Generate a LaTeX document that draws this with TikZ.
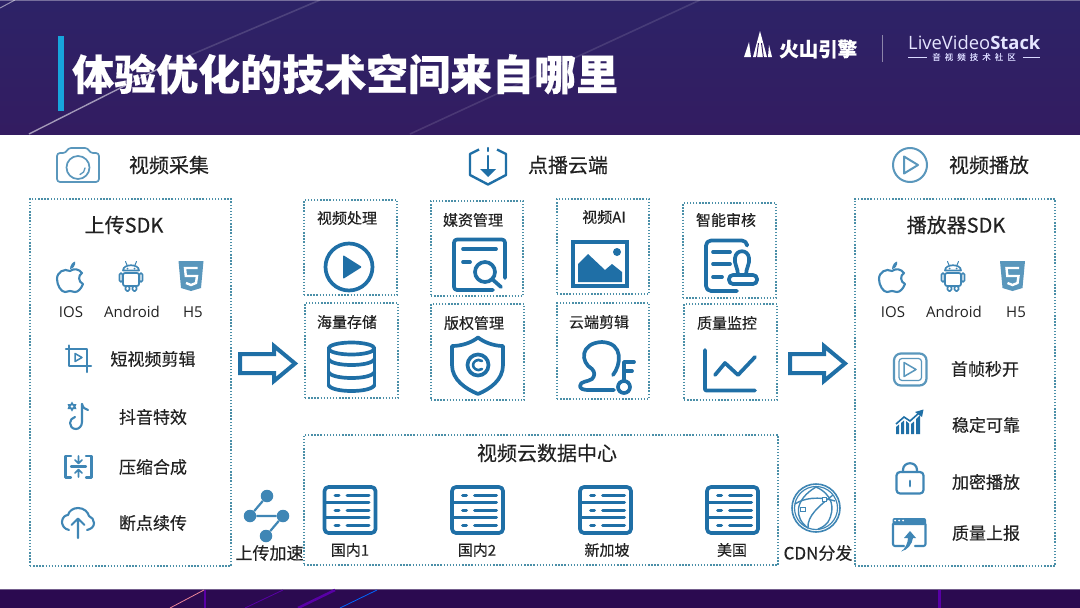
\documentclass[tikz,border=0pt]{standalone}
\usepackage{fontspec}
\setmainfont{Noto Sans CJK SC}[RawFeature={embolden=0.35}]
\newfontfamily\latinf{Open Sans}
\definecolor{ink}{HTML}{222222}
\definecolor{iconblue}{HTML}{1F6FA6}
\definecolor{midblue}{HTML}{3F86B5}
\definecolor{softblue}{HTML}{5A97BC}
\definecolor{dotcol}{HTML}{4A8FA8}
\definecolor{headtop}{HTML}{2D2367}
\definecolor{headbot}{HTML}{331C61}
\definecolor{foot}{HTML}{2B0A50}
\newcommand{\fs}[1]{\fontsize{#1}{#1}\selectfont}
\tikzset{
  dotbox/.style={draw=dotcol,line width=1.4pt,dash pattern=on 1.4pt off 1.7pt,inner sep=0pt,outer sep=0pt},
  txt/.style={inner sep=0pt,text=ink,font=\fs{15}},
  headtxt/.style={txt,font=\fs{20}},
  sidetxt/.style={txt,font=\fs{17}},
  ico/.style={draw=iconblue,line width=3.7pt,line cap=round,line join=round},
  icob/.style={draw=midblue,line width=2.1pt,line cap=round,line join=round},
  icosoft/.style={draw=softblue,line width=2pt,line cap=round,line join=round},
  bigarrow/.style={draw=iconblue,line width=4pt,line join=miter,fill=white},
  pics/apple/.style={code={
    \draw[icob] (0,-6) .. controls (4,-9) and (9,-8) .. (12,-4) .. controls (8,-2) and (8,5) .. (13,7) .. controls (11,12) and (8,15) .. (5,15) .. controls (3,15) and (2,14) .. (0,14) .. controls (-2,14) and (-3,15) .. (-5,15) .. controls (-9,15) and (-13,8) .. (-13,2) .. controls (-13,-5) and (-6,-9) .. (0,-6) -- cycle;
    \fill[midblue] (0,-8) .. controls (0,-12) and (3,-15) .. (5,-15.5) .. controls (6,-12) and (3,-8) .. (0,-8) -- cycle;
  }},
  pics/android/.style={code={
    \draw[icob,line width=1.7pt,rounded corners=2pt] (-8,-3) rectangle (8,10);
    \draw[icob,line width=1.7pt] (-8,-5.5) .. controls (-8,-12.5) and (8,-12.5) .. (8,-5.5) -- cycle;
    \draw[icob,line width=1.7pt,rounded corners=1.5pt] (-11.5,-3) rectangle (-8.5,6);
    \draw[icob,line width=1.7pt,rounded corners=1.5pt] (8.5,-3) rectangle (11.5,6);
    \draw[icob,line width=1.7pt,rounded corners=1.5pt] (-5.5,10) rectangle (-1.5,15);
    \draw[icob,line width=1.7pt,rounded corners=1.5pt] (1.5,10) rectangle (5.5,15);
    \draw[icob,line width=1pt] (-4,-11) -- (-5.5,-14.5) (4,-11) -- (5.5,-14.5);
    \fill[midblue] (-3.5,-7.5) circle[radius=1] (3.5,-7.5) circle[radius=1];
  }},
  pics/hfive/.style={code={
    \fill[softblue] (-12.5,-15) -- (12.5,-15) -- (10,12) -- (0,15) -- (-10,12) -- cycle;
    \draw[white,line width=2.4pt,line join=miter] (6.5,-8) -- (-6,-8) -- (-5.2,0) -- (6,0) -- (5,7) -- (0,9) -- (-5,7);
  }},
  pics/server/.style={code={
    \draw[ico,rounded corners=4pt] (-25.5,-23) rectangle (25.5,23);
    \draw[ico,line width=3pt] (-25,-7.5) -- (19,-7.5) (-25,7.5) -- (19,7.5);
    \foreach \r in {-15,0,15} \draw[ico,line width=3pt] (-15,\r) -- (-11,\r) (-3,\r) -- (19,\r);
  }}
}
\begin{document}
\begin{tikzpicture}[x=1pt,y=-1pt]
\useasboundingbox (0,0) rectangle (1080,608);
\fill[white] (0,0) rectangle (1080,608);
% banner
\shade[top color=headtop,bottom color=headbot] (0,0) rectangle (1080,134);
\fill[white,opacity=.35] (0,0) rectangle (1080,1);
\draw[white,opacity=.55,line width=1.4pt] (29,134) -- (160,68);
\draw[white,opacity=.15,line width=1.6pt] (160,68) -- (320,0);
\draw[white,opacity=.5,line width=1pt] (0,8) -- (15,0);
\draw[white,opacity=.12,line width=1.6pt] (410,134) -- (700,0);
\fill[foot] (0,589) rectangle (1080,608);
\draw[white,opacity=.35] (0,589) -- (1080,589);
\draw[violet!70!blue,line width=2.5pt] (205,590) -- (205,608);
\draw[pink!70!purple,line width=.8pt] (204,590) -- (170,608);
\draw[violet!70!blue,line width=.8pt] (283,590) -- (245,608);
\draw[violet!70!blue,line width=2.5pt] (335,590) -- (298,608);
\draw[blue!60!cyan,line width=.8pt] (377,590) -- (340,608);
\draw[violet!70!blue,line width=3pt] (939,590) -- (939,608);
% title
\fill[cyan!80!teal] (58,36) rectangle (64,111);
\node[font=\fs{42}\bfseries,text=white,inner sep=0pt,anchor=west] (title) at (72,74) {体验优化的技术空间来自哪里};
% logos
\fill[white] (744,57) -- (749,42) -- (751,57) -- cycle (753,57) -- (760,31) -- (767,57) -- cycle (768,57) -- (769,45) -- (772,57) -- cycle;
\draw[headbot,line width=1pt] (756.5,58) -- (758.5,43) (763.5,58) -- (761.5,43);
\node[font=\fs{19.5}\bfseries,text=white,inner sep=0pt,anchor=west] (volc) at (779,49) {火山引擎};
\draw[white,opacity=.45,line width=1pt] (882,35) -- (882,62);
\node[font=\latinf\fs{18.4},text=white!90!blue,inner sep=0pt,anchor=west] (lvs) at (908,43) {LiveVideo\textbf{Stack}};
\node[font=\fs{8.5},text=white!85!blue,inner sep=0pt] (lvssub) at (974,57) {音\hspace{4pt}视\hspace{4pt}频\hspace{4pt}技\hspace{4pt}术\hspace{4pt}社\hspace{4pt}区};
\coordinate (ll) at (908,57); \coordinate (lr) at (1040,57);
\draw[white!85!blue,line width=.6pt] (ll) -- (927,57) (1023,57) -- (lr);
% header row
\node[headtxt] (h1) at (169,165) {视频采集};
\node[headtxt] (h2) at (568,165) {点播云端};
\node[headtxt] (h3) at (989,165) {视频播放};
% camera
\begin{scope}[shift={(78,165)}]
\draw[icosoft,line width=1.7pt,rounded corners=3pt] (-21,-12) -- (-12,-12) -- (-10,-17) -- (10,-17) -- (12,-12) -- (21,-12) -- (21,17) -- (-21,17) -- cycle;
\draw[icosoft,line width=1.7pt] (0,2.5) circle[radius=11.5];
\draw[icosoft,line width=1.3pt] (7,3) .. controls (7,6) and (5,8.5) .. (2,9.5);
\end{scope}
% hex download
\begin{scope}[shift={(488,165)}]
\draw[ico,line width=2.4pt,line cap=butt] (-9,-15.5) -- (-18,-11) -- (-18,10) -- (0,19.5) -- (18,10) -- (18,-11) -- (9,-15.5);
\draw[ico,line width=2.4pt] (0,-17) -- (0,-14);
\draw[ico,line width=2.4pt] (0,-9) -- (0,5);
\fill[iconblue] (-8,4) -- (8,4) -- (0,12) -- cycle;
\end{scope}
% play head
\draw[icosoft] (910,165) circle[radius=17];
\draw[icosoft] (904,156.5) -- (918,165) -- (904,173.5) -- cycle;
% panels
\node[dotbox,minimum width=201pt,minimum height=367pt] (left) at (130.5,382.5) {};
\node[dotbox,minimum width=200pt,minimum height=367pt] (right) at (955,382.5) {};
\node[dotbox,minimum width=93pt,minimum height=95pt] (b1) at (350.5,247.5) {};
\node[dotbox,minimum width=93pt,minimum height=95pt] (b2) at (351.5,350.5) {};
\node[dotbox,minimum width=92pt,minimum height=95pt] (b3) at (477,248.5) {};
\node[dotbox,minimum width=93pt,minimum height=96pt] (b4) at (477.5,352) {};
\node[dotbox,minimum width=92pt,minimum height=95pt] (b5) at (603,246.5) {};
\node[dotbox,minimum width=92pt,minimum height=96pt] (b6) at (603,351) {};
\node[dotbox,minimum width=93pt,minimum height=95pt] (b7) at (729.5,250.5) {};
\node[dotbox,minimum width=93pt,minimum height=96pt] (b8) at (730.5,352) {};
\node[dotbox,minimum width=474pt,minimum height=130pt] (dc) at (541,500) {};
% left panel
\node[headtxt] (lt) at (124,225) {上传SDK};
\pic at (70,277) {apple}; \pic at (131,276) {android}; \pic at (191,276) {hfive};
\node[txt,font=\latinf\fs{15}] (l1) at (71,312) {IOS};
\node[txt,font=\latinf\fs{15}] (l2) at (132,312) {Android};
\node[txt,font=\latinf\fs{15}] (l3) at (193,312) {H5};
\node[txt,font=\fs{17}] (l4) at (153,359) {短视频剪辑};
\node[sidetxt] (l5) at (153,417) {抖音特效};
\node[sidetxt] (l6) at (153,467) {压缩合成};
\node[sidetxt] (l7) at (153,523) {断点续传};
% crop icon
\draw[icob] (69,345.5) -- (69,366) -- (91,366) (66,349) -- (87,349) -- (87,372);
\draw[icob,line width=1.5pt] (75,353.5) -- (82,357.5) -- (75,361.5) -- cycle;
% note icon
\draw[icob] (82,404) -- (82,422) .. controls (82,426) and (79,429) .. (76,429) .. controls (72,429) and (70,426) .. (70,423) .. controls (70,420) and (72,418) .. (75,417);
\draw[icob] (82,404) .. controls (83,408) and (85,409) .. (88,410);
\fill[midblue] (72,401.5) -- (73.5,404) -- (76.5,404) -- (75.5,406.5) -- (76.5,409) -- (73.5,409) -- (72,411.5) -- (70.5,409) -- (67.5,409) -- (68.5,406.5) -- (67.5,404) -- (70.5,404) -- cycle;
\fill[white] (72,406.5) circle[radius=1.3];
% compress icon
\draw[icob] (71,456) -- (65.5,456) -- (65.5,477.5) -- (71,477.5) (86,456) -- (91.5,456) -- (91.5,477.5) -- (86,477.5);
\draw[icob] (71,466.5) -- (86,466.5);
\draw[icob,line width=1.7pt] (78.5,456) -- (78.5,463) (75,460) -- (78.5,463.5) -- (82,460) (78.5,477) -- (78.5,470) (75,473) -- (78.5,469.5) -- (82,473);
% upload cloud
\draw[icob] (69,530) .. controls (64,529) and (62,525) .. (62,522) .. controls (62,517) and (66,515) .. (68,515) .. controls (69,511) and (73,508) .. (78,508) .. controls (84,508) and (88,512) .. (89,516) .. controls (92,517) and (94,520) .. (94,523) .. controls (94,527) and (91,529) .. (87,530);
\draw[icob] (78,538) -- (78,519) (71.5,525) -- (78,518.5) -- (84.5,525);
% speed icon
\node[fill=midblue,circle,minimum size=12.5pt,inner sep=0pt] (s1) at (267,496) {};
\node[fill=midblue,circle,minimum size=12.5pt,inner sep=0pt] (s2) at (250,516) {};
\node[fill=midblue,circle,minimum size=12.5pt,inner sep=0pt] (s3) at (283,516) {};
\node[fill=midblue,circle,minimum size=12.5pt,inner sep=0pt] (s4) at (266,536) {};
\draw[midblue,line width=2.2pt] (s1) -- (s2) (s2) -- (s3) (s3) -- (s4);
\node[sidetxt] (s5) at (269.5,553) {上传加速};
% block arrows
\draw[bigarrow] (240,354) -- (274,354) -- (274,346) -- (295,363.5) -- (274,381) -- (274,373) -- (240,373) -- cycle;
\draw[bigarrow] (790,354) -- (824,354) -- (824,346) -- (845,363.5) -- (824,381) -- (824,373) -- (790,373) -- cycle;
% middle labels
\node[txt] (m1) at (347,218) {视频处理};
\node[txt] (m2) at (473,220) {媒资管理};
\node[txt] (m3) at (604,217) {视频AI};
\node[txt] (m4) at (726,220) {智能审核};
\node[txt] (m5) at (347,322) {海量存储};
\node[txt] (m6) at (474,323) {版权管理};
\node[txt] (m7) at (599,322) {云端剪辑};
\node[txt] (m8) at (727,323) {质量监控};
% play
\draw[ico] (349,267) circle[radius=23.5];
\fill[iconblue,rounded corners=1pt] (343,255) -- (362,267) -- (343,279) -- cycle;
% doc search
\draw[ico,rounded corners=3pt] (505,278) -- (505,239.5) -- (454,239.5) -- (454,290) -- (493,290);
\draw[ico] (463,249) -- (496,249) (463,262) -- (470,262);
\draw[ico] (485,272) circle[radius=10];
\draw[ico] (492,279) -- (501,287);
% database
\begin{scope}[shift={(351.5,0)}]
\draw[ico] (0,348.5) ellipse[x radius=23,y radius=6];
\draw[ico] (-23,348.5) -- (-23,385);
\draw[ico] (23,348.5) -- (23,385);
\draw[ico] (-23,359) .. controls (-20,367) and (20,367) .. (23,359);
\draw[ico] (-23,372) .. controls (-20,380) and (20,380) .. (23,372);
\draw[ico] (-23,385) .. controls (-20,393) and (20,393) .. (23,385);
\end{scope}
% shield
\draw[ico] (478,337.5) .. controls (485,343) and (495,346) .. (503,346) -- (503,365) .. controls (503,380) and (490,389) .. (478,394) .. controls (466,389) and (452,380) .. (452,365) -- (452,346) .. controls (461,346) and (471,343) .. (478,337.5) -- cycle;
\draw[ico] (478,365) circle[radius=10.5];
\draw[ico,line width=2.6pt] (482,361) .. controls (477,358) and (473,362) .. (473,365) .. controls (473,368) and (477,372) .. (482,369);
% image
\draw[iconblue,line width=3.4pt] (573,242) rectangle (627,286);
\fill[iconblue] (578,282) -- (578,264) -- (588,254) -- (605,270) -- (612,264) -- (622,272) -- (622,282) -- cycle;
\fill[iconblue] (617,252) circle[radius=4];
% stamp
\draw[ico,rounded corners=5pt] (747,244) -- (747,240.5) -- (706,240.5) -- (706,291) -- (737,291);
\draw[ico] (713,252) -- (730,252) (713,264) -- (730,264) (713,277) -- (722,277);
\draw[ico,rounded corners=4pt] (729,275) rectangle (757,284);
\draw[ico] (738,275) .. controls (738,268) and (734,264) .. (735,258) .. controls (736,249) and (748,249) .. (749,258) .. controls (750,264) and (746,268) .. (746,275);
% user key
\draw[ico] (613,375) .. controls (621,365) and (624,343) .. (602,342) .. controls (580,343) and (580,362) .. (592,369) .. controls (595,372) and (595,376) .. (592,379) .. controls (588,382) and (580,381) .. (580,386) .. controls (580,389) and (584,390) .. (588,390) -- (614,390);
\draw[ico] (624,387) circle[radius=6];
\draw[ico] (624,381) -- (624,362) -- (634,362) (624,371) -- (632,371);
% line chart
\draw[ico,rounded corners=1pt] (705,350) -- (705,390.5) -- (755,390.5);
\draw[ico] (715,375) -- (725,363) -- (738,375) -- (755,357);
% data centre
\node[headtxt] (dct) at (547,453) {视频云数据中心};
\pic at (350,510) {server}; \pic at (477.5,510) {server}; \pic at (605.5,510) {server}; \pic at (732.5,510) {server};
\node[txt] (d1) at (350,550) {国内1};
\node[txt] (d2) at (477,550) {国内2};
\node[txt] (d3) at (607,550) {新加坡};
\node[txt] (d4) at (732,550) {美国};
% globe
\begin{scope}[shift={(816,508)}]
\draw[midblue,line width=1.6pt] (0,0) circle[radius=24];
\draw[midblue,line width=1.2pt] (0,0) circle[radius=21.5];
\draw[midblue,line width=1.4pt] (0,-21) .. controls (-22,-8) and (-22,10) .. (-8,20);
\draw[midblue,line width=1.4pt] (0,-21) .. controls (16,-14) and (20,0) .. (12,14) .. controls (9,18) and (5,20) .. (2,21);
\draw[midblue,line width=1.4pt] (-21,-4) .. controls (-12,-10) and (2,-12) .. (19,-7);
\draw[midblue,line width=1.4pt] (-8,20) .. controls (-9,8) and (3,-2) .. (17,-13);
\draw[midblue,line width=1pt,fill=white] (-15.5,-1) rectangle (-11,3.5);
\draw[midblue,line width=1pt,fill=white] (6,-11) rectangle (10,-7);
\end{scope}
\node[sidetxt] (cdn) at (818,553) {CDN分发};
% right panel
\node[headtxt] (rt) at (956,225) {播放器SDK};
\pic at (892,277) {apple}; \pic at (953,276) {android}; \pic at (1012.5,276) {hfive};
\node[txt,font=\latinf\fs{15}] (r1) at (893,312) {IOS};
\node[txt,font=\latinf\fs{15}] (r2) at (954,312) {Android};
\node[txt,font=\latinf\fs{15}] (r3) at (1016,312) {H5};
\node[sidetxt] (r4) at (985,369) {首帧秒开};
\node[sidetxt] (r5) at (986,425) {稳定可靠};
\node[sidetxt] (r6) at (986,482) {加密播放};
\node[sidetxt] (r7) at (986,533) {质量上报};
\draw[icosoft,line width=2.2pt,rounded corners=7pt] (894,353.5) rectangle (926.5,385.5);
\draw[icosoft,line width=1.2pt,rounded corners=3pt] (899,358.5) rectangle (921.5,380.5);
\draw[icosoft,line width=1.5pt] (904,362.5) -- (916,369.5) -- (904,376.5) -- cycle;
% bars
\fill[iconblue] (896,434) -- (896,427) -- (899,424.5) -- (899,434) -- cycle (901,434) -- (901,423) -- (904,420.5) -- (904,434) -- cycle (906,434) -- (906,421) -- (909,423.5) -- (909,434) -- cycle (911,434) -- (911,424) -- (914,421.5) -- (914,434) -- cycle (916,434) -- (916,419) -- (920,415) -- (920,434) -- cycle;
\draw[iconblue,line width=1.6pt] (896,424) -- (904,417) -- (910,421) -- (919,413);
\fill[iconblue] (915,412) -- (923.5,409.5) -- (922,417) -- cycle;
% lock
\draw[icob,rounded corners=3.5pt,line width=2.2pt] (896.5,472) rectangle (923.5,493.5);
\draw[icob,line width=2.2pt] (903,472) -- (903,470) .. controls (903,461) and (917,461) .. (917,470) -- (917,472);
\draw[icob,line width=2.8pt] (910,481) -- (910,486);
% window report
\fill[midblue,rounded corners=2pt] (892.5,518) rectangle (926,525);
\draw[icob,rounded corners=2pt] (893,524) -- (893,546) -- (904,546) (915,546) -- (925.5,546) -- (925.5,524);
\fill[white] (895,520.5) circle[radius=1] (899,520.5) circle[radius=1] (903,520.5) circle[radius=1];
\fill[midblue] (901,551.5) .. controls (905,549) and (908,543) .. (908,538) -- (904,538) -- (910,531) -- (916,538) -- (913,538) .. controls (912,544) and (908,550) .. (901,551.5) -- cycle;
\end{tikzpicture}
\end{document}
